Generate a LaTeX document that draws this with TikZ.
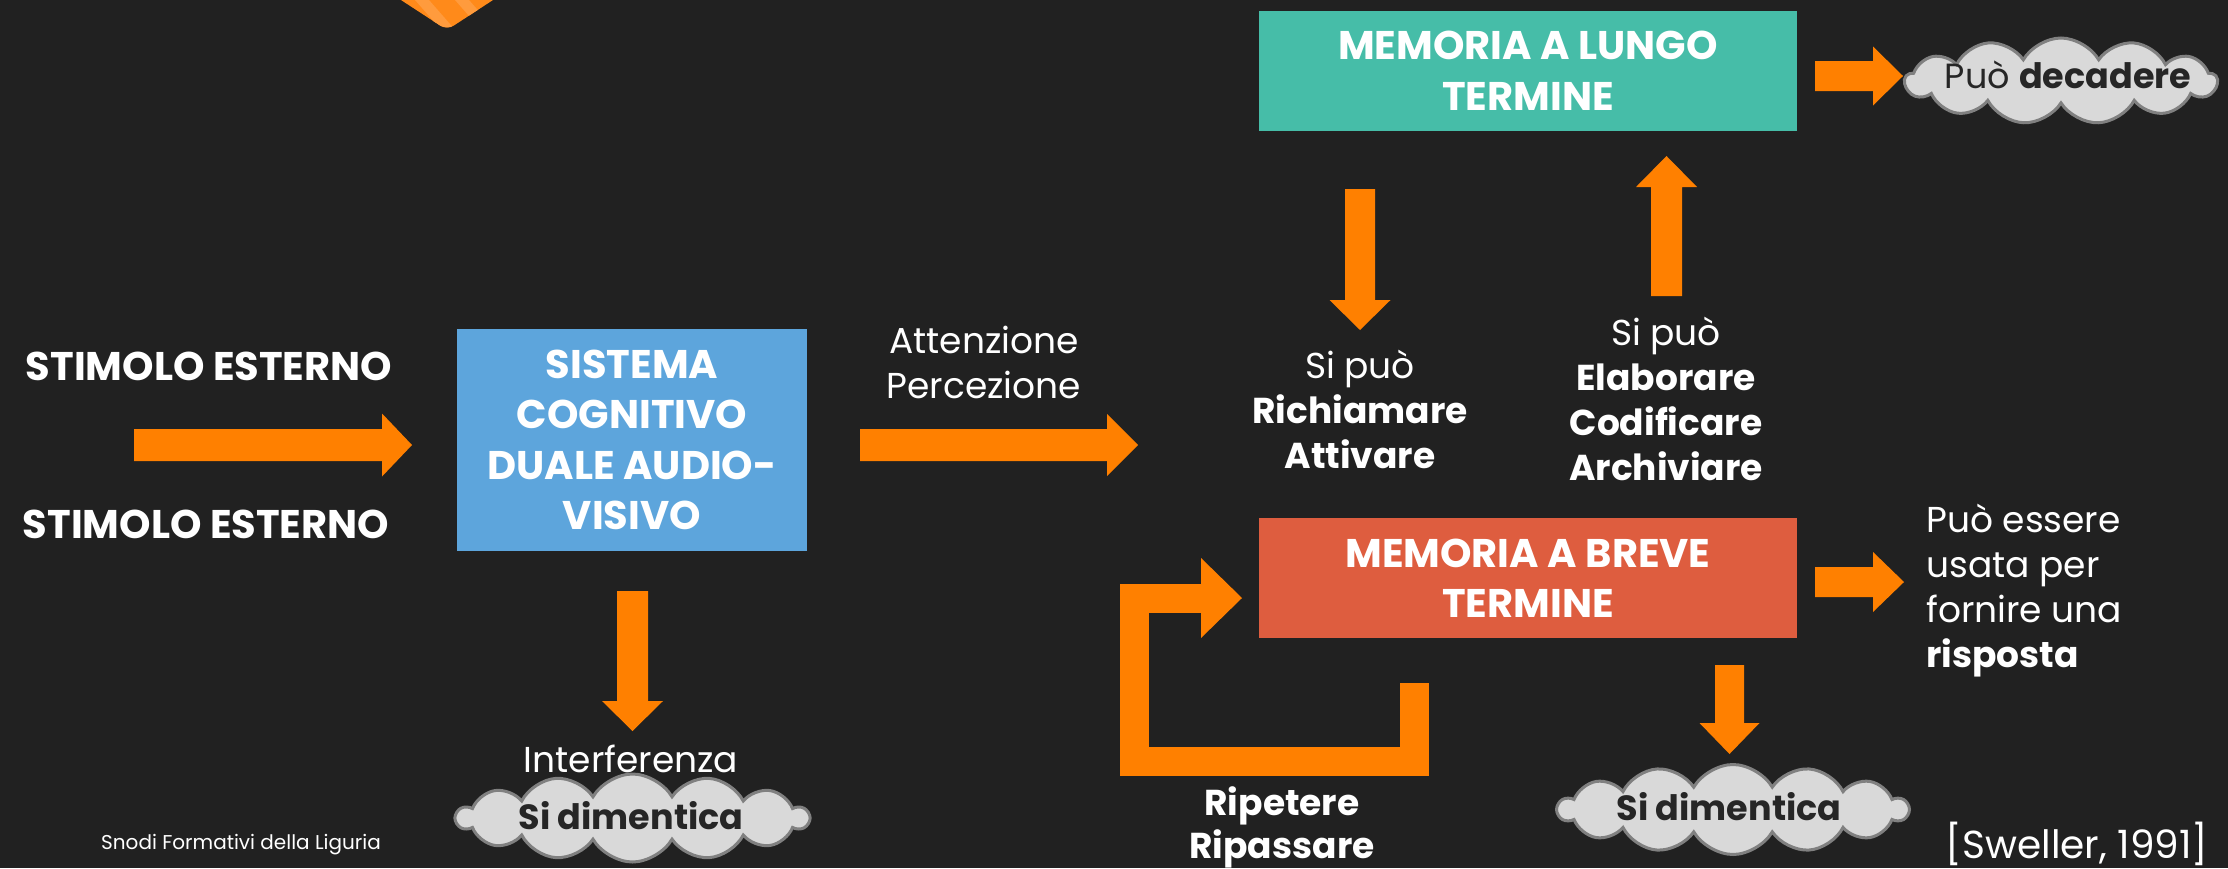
\documentclass[tikz,border=0pt]{standalone}
\usepackage{fontspec}
\setmainfont{Poppins}
\usetikzlibrary{calc,shapes.symbols}
\definecolor{bgcol}{HTML}{212121}
\definecolor{arrcol}{HTML}{FF8000}
\definecolor{ltcol}{HTML}{46BDA8}
\definecolor{stcol}{HTML}{DE5D3F}
\definecolor{sacol}{HTML}{5DA5DC}
\definecolor{cloudfill}{HTML}{D9D9D9}
\definecolor{clouddraw}{HTML}{808080}
\definecolor{cloudtext}{HTML}{262626}
\definecolor{diacol}{HTML}{FF8A1A}
\definecolor{diastripe}{HTML}{FF9B3D}
% fat block arrow: #1 start, #2 tip, #3 shaft half width, #4 head half width, #5 head length
\newcommand\fatarrow[5]{%
  \path ($(#2)!#5!(#1)$) coordinate (fahead);
  \fill[arrcol] ($(#1)!#3!90:(#2)$) -- ($(fahead)!#3!90:(#2)$) -- ($(fahead)!#4!90:(#2)$) -- (#2)
    -- ($(fahead)!#4!-90:(#2)$) -- ($(fahead)!#3!-90:(#2)$) -- ($(#1)!#3!-90:(#2)$) -- cycle;}
\begin{document}
\begin{tikzpicture}[x=1pt,y=-1pt,
  mbox/.style={inner sep=0pt, align=center, text=white, font=\bfseries\fontsize{40}{50.5}\selectfont},
  bigtxt/.style={inner sep=0pt, anchor=base, text=white, font=\bfseries\fontsize{40}{50}\selectfont},
  lbl/.style={inner sep=0pt, anchor=base, align=center, text=white, font=\fontsize{36}{45}\selectfont},
  cloudbg/.style={cloud, cloud puffs=14, cloud puff arc=120, cloud ignores aspect, fill=cloudfill, draw=clouddraw, line width=3pt, inner sep=0pt},
  cloudtxt/.style={inner sep=0pt, anchor=base, text=cloudtext, font=\fontsize{35}{45}\selectfont}]
\useasboundingbox (0,0) rectangle (2228,868);
\clip (0,0) rectangle (2228,868);
\fill[bgcol] (0,0) rectangle (2228,868);

% decorative striped shape at the top
\begin{scope}
  \clip[rounded corners=8pt] (355,-30) -- (447,30) -- (539,-30) -- cycle;
  \fill[diacol] (300,-40) rectangle (600,40);
  \foreach \s in {300,340,...,580}{
    \fill[diastripe] (\s,-40) -- (\s+14,-40) -- (\s+84,40) -- (\s+70,40) -- cycle;}
\end{scope}

% boxes
\node[mbox, fill=sacol, minimum width=350pt, minimum height=222pt] (sys) at (632,440)
  {SISTEMA\\COGNITIVO\\DUALE AUDIO-\\VISIVO};
\node[mbox, fill=ltcol, minimum width=538pt, minimum height=120pt] (lt) at (1528,71)
  {MEMORIA A LUNGO\\TERMINE};
\node[mbox, fill=stcol, minimum width=538pt, minimum height=120pt] (bt) at (1528,578)
  {MEMORIA A BREVE\\TERMINE};

% texts (multi-line nodes: base = baseline of the last line)
\node[bigtxt] (stim1) at (209,380) {STIMOLO ESTERNO};
\node[bigtxt] (stim2) at (206,538) {STIMOLO ESTERNO};
\node[lbl] (att) at (984,398) {Attenzione\\Percezione};
\node[lbl] (rich) at (1360,468) {Si può\\\textbf{Richiamare}\\\textbf{Attivare}};
\node[lbl] (elab) at (1666,480) {Si può\\\textbf{Elaborare}\\\textbf{Codificare}\\\textbf{Archiviare}};
\node[lbl, anchor=base west, align=left] (resp) at (1926,667) {Può essere\\usata per\\fornire una\\\textbf{risposta}};
\node[lbl] (interf) at (631,772) {Interferenza};
\node[lbl, font=\bfseries\fontsize{36}{43}\selectfont] (rip) at (1282,858) {Ripetere\\Ripassare};
\node[lbl, font=\fontsize{39}{48}\selectfont] (sweller) at (2077,858) {[Sweller, 1991]};
\node[lbl, anchor=base west, font=\fontsize{20}{24}\selectfont] (snodi) at (101,849) {Snodi Formativi della Liguria};

% clouds
\node[cloudbg, minimum width=352pt, minimum height=88pt] (c1) at (632.5,818) {};
\node[cloudtxt, font=\bfseries\fontsize{35}{45}\selectfont] (c1t) at (631,829) {Si dimentica};
\node[cloudbg, minimum width=350pt, minimum height=90pt] (c2) at (1733,809.5) {};
\node[cloudtxt, font=\bfseries\fontsize{35}{45}\selectfont] (c2t) at (1729,820) {Si dimentica};
\node[cloudbg, cloud puffs=13, minimum width=312pt, minimum height=86pt] (c3) at (2061,81) {};
\node[cloudtxt] (c3t) at (2068,88) {Può \textbf{decadere}};

% arrow end points
\coordinate (a1s) at (134,445);    \coordinate (a1e) at (412,445);
\coordinate (a2s) at (860,445);    \coordinate (a2e) at (1138,445);
\coordinate (a3s) at (632.5,591);  \coordinate (a3e) at (632.5,731);
\coordinate (a4s) at (1360,189);   \coordinate (a4e) at (1360,330);
\coordinate (a5s) at (1666.5,296); \coordinate (a5e) at (1666.5,156);
\coordinate (a6s) at (1815,76);    \coordinate (a6e) at (1903,76);
\coordinate (a7s) at (1815,582);   \coordinate (a7e) at (1904,582);
\coordinate (a8s) at (1729.5,665); \coordinate (a8e) at (1729.5,754);

\fatarrow{a1s}{a1e}{16pt}{31.5pt}{30pt}
\fatarrow{a2s}{a2e}{16pt}{31pt}{31pt}
\fatarrow{a3s}{a3e}{15.5pt}{30.5pt}{30pt}
\fatarrow{a4s}{a4e}{15pt}{30.5pt}{30pt}
\fatarrow{a5s}{a5e}{15.5pt}{30.5pt}{31pt}
\fatarrow{a6s}{a6e}{15pt}{29.5pt}{30pt}
\fatarrow{a7s}{a7e}{15pt}{30pt}{31pt}
\fatarrow{a8s}{a8e}{14.5pt}{30pt}{31pt}

% rehearsal loop
\coordinate (lp0) at (1414.5,683);
\coordinate (lp1) at (1414.5,761);
\coordinate (lp2) at (1134.5,761);
\coordinate (lp3) at (1134.5,598);
\coordinate (lp4) at (1201,598);
\coordinate (lp5) at (1242,598);
\draw[arrcol, line width=29pt, line join=miter, line cap=butt] (lp0) -- (lp1) -- (lp2) -- (lp3) -- (lp4);
\fatarrow{lp4}{lp5}{14.5pt}{40pt}{41pt}
\end{tikzpicture}
\end{document}
